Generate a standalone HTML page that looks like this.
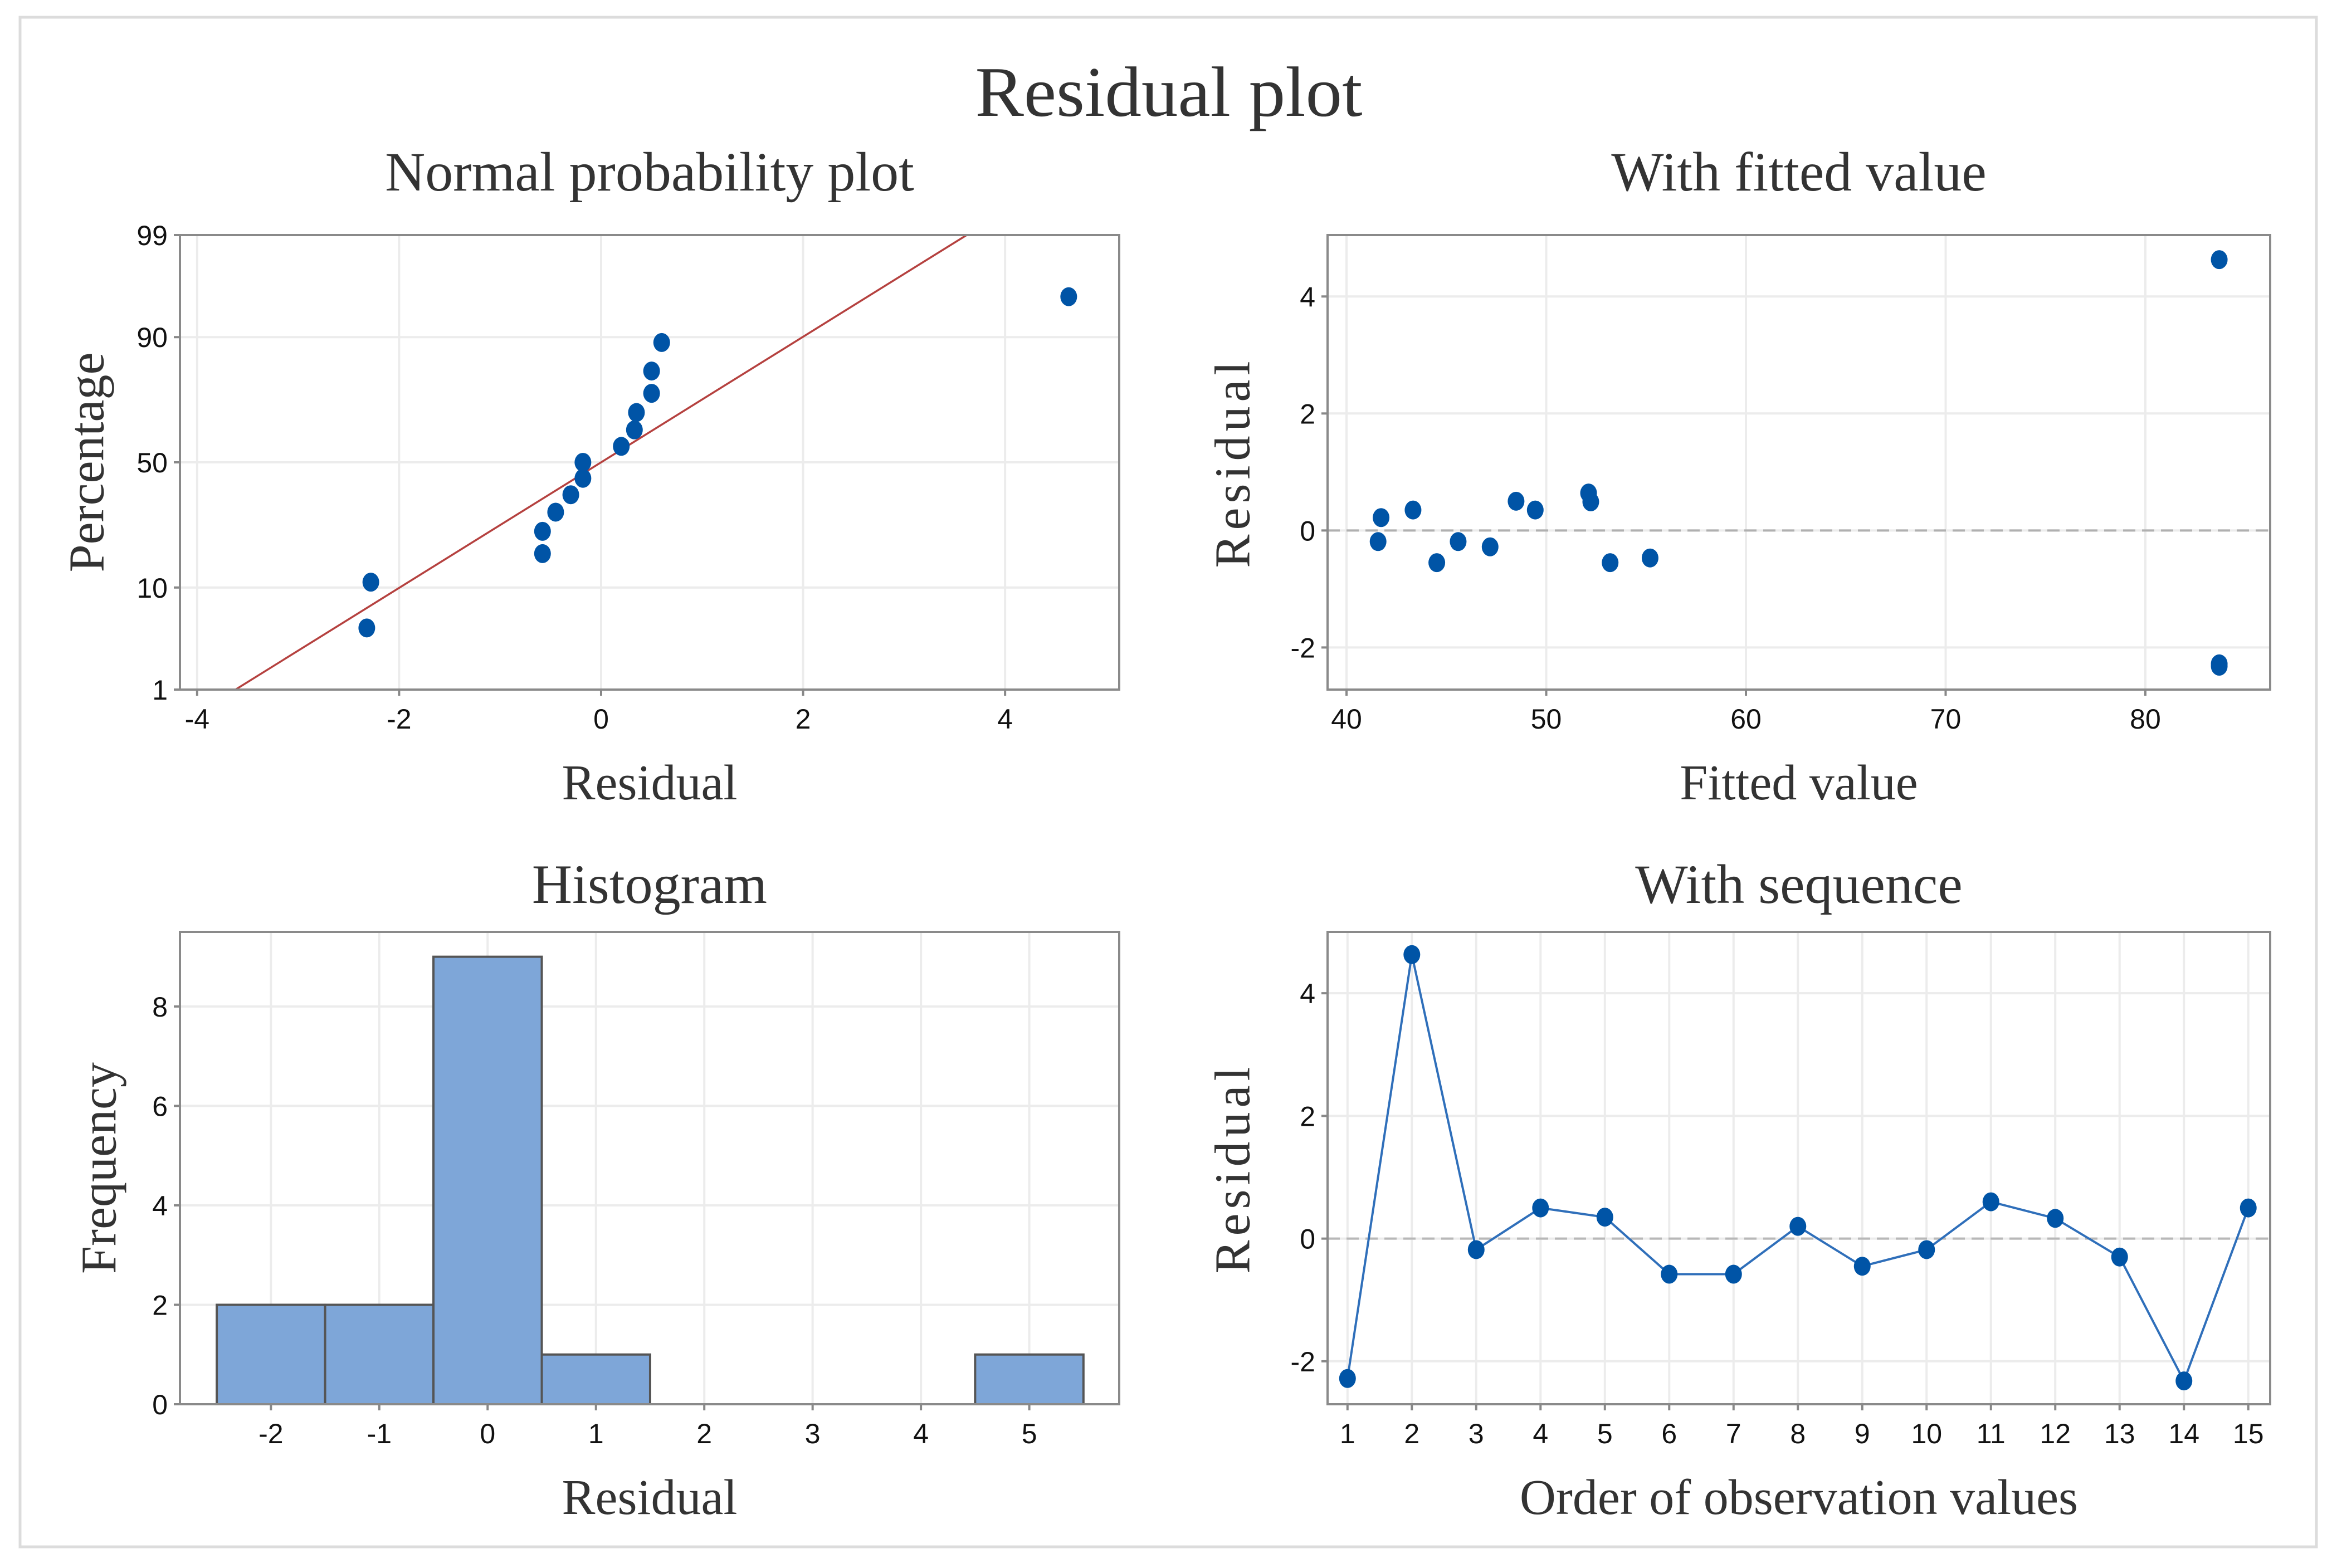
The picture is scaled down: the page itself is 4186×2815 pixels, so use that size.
<!DOCTYPE html>
<html><head><meta charset="utf-8"><style>
html,body{margin:0;padding:0;background:#fff;}
svg{display:block;}
text{font-family:"Liberation Serif",serif;fill:#333;}
.tick{font-family:"Liberation Sans",sans-serif;fill:#111;font-size:50px;}
</style></head><body>
<svg id="chart" width="4186" height="2815" viewBox="0 0 4186 2815" xmlns="http://www.w3.org/2000/svg">
<rect x="0" y="0" width="4186" height="2815" fill="#fff"/>
<rect x="36" y="31" width="4122" height="2746" fill="none" stroke="#dcdcdc" stroke-width="5"/>
<text x="2098" y="208" font-size="128" text-anchor="middle" textLength="695" lengthAdjust="spacingAndGlyphs">Residual plot</text>
</svg>
<script>
// Normal probability plot data (sorted residuals and plotting percentages)
const npResiduals = [-2.32,-2.28,-0.58,-0.58,-0.45,-0.30,-0.18,-0.18,0.20,0.33,0.35,0.50,0.50,0.60,4.63];
const npPercents = [4.5,11.0,17.5,24.0,30.5,37.0,43.5,50.0,56.5,63.0,69.5,76.0,82.5,89.0,95.5];
const npFitMean = 0.0;
const npFitSd = 1.556;
const npXTicks = [-4,-2,0,2,4];
const npYTicks = [1,10,50,90,99];
// Fitted-value plot data
const fittedValues = [41.58,41.73,43.33,44.52,45.59,47.19,48.49,49.45,52.12,52.23,53.2,55.2,83.7,83.7,83.7];
const fittedResiduals = [-0.19,0.22,0.35,-0.55,-0.19,-0.28,0.50,0.35,0.64,0.49,-0.55,-0.47,4.63,-2.28,-2.32];
const fvXTicks = [40,50,60,70,80];
const fvYTicks = [-2,0,2,4];
// Histogram data
const histBins = [-2,-1,0,1,2,3,4,5];
const histCounts = [2,2,9,1,0,0,0,1];
const histXTicks = [-2,-1,0,1,2,3,4,5];
const histYTicks = [0,2,4,6,8];
// Sequence data
const seqOrder = [1,2,3,4,5,6,7,8,9,10,11,12,13,14,15];
const seqResiduals = [-2.28,4.63,-0.18,0.50,0.35,-0.58,-0.58,0.20,-0.45,-0.18,0.60,0.33,-0.30,-2.32,0.50];
const seqYTicks = [-2,0,2,4];

const NS = "http://www.w3.org/2000/svg";
const svg = document.getElementById('chart');
function mk(tag, attrs, parent){const e=document.createElementNS(NS,tag);for(const k in attrs)e.setAttribute(k,attrs[k]);(parent||svg).appendChild(e);return e;}
function lin(d0,d1,r0,r1){return v=>r0+(v-d0)*(r1-r0)/(d1-d0);}
// inverse normal CDF (Acklam)
function qnorm(p){const a=[-39.69683028665376,220.9460984245205,-275.9285104469687,138.3577518672690,-30.66479806614716,2.506628277459239],b=[-54.47609879822406,161.5858368580409,-155.6989798598866,66.80131188771972,-13.28068155288572],c=[-0.007784894002430293,-0.3223964580411365,-2.400758277161838,-2.549732539343734,4.374664141464968,2.938163982698783],d=[0.007784695709041462,0.3224671290700398,2.445134137142996,3.754408661907416];const pl=0.02425;let q,r;if(p<pl){q=Math.sqrt(-2*Math.log(p));return(((((c[0]*q+c[1])*q+c[2])*q+c[3])*q+c[4])*q+c[5])/((((d[0]*q+d[1])*q+d[2])*q+d[3])*q+1);}if(p>1-pl){q=Math.sqrt(-2*Math.log(1-p));return-(((((c[0]*q+c[1])*q+c[2])*q+c[3])*q+c[4])*q+c[5])/((((d[0]*q+d[1])*q+d[2])*q+d[3])*q+1);}q=p-0.5;r=q*q;return(((((a[0]*r+a[1])*r+a[2])*r+a[3])*r+a[4])*r+a[5])*q/(((((b[0]*r+b[1])*r+b[2])*r+b[3])*r+b[4])*r+1);}

function panel(opt){
  const g=mk('g',{});
  
  
  const {L,R,T,B}=opt;
  const t=mk('text',{x:(L+R)/2,y:opt.titleY,'font-size':100,'text-anchor':'middle'},g);
  t.textContent=opt.title;
  
  
  // grid
  opt.xTicks.forEach(v=>{const x=opt.sx(v);
    const gl=mk('line',{x1:x,x2:x,y1:T,y2:B,stroke:'#ececec','stroke-width':4},g);
    
    
  });
  opt.yTicks.forEach(v=>{const y=opt.sy(v);
    const gl=mk('line',{x1:L,x2:R,y1:y,y2:y,stroke:'#ececec','stroke-width':4},g);
    
    
  });
  // ticks & labels
  opt.xTicks.forEach((v,i)=>{const x=opt.sx(v);
    mk('line',{x1:x,x2:x,y1:B,y2:B+11,stroke:'#888','stroke-width':4},g);
    const tl=mk('text',{x:x,y:B+70,class:'tick','text-anchor':'middle'},g);
    tl.textContent=opt.xLabels?opt.xLabels[i]:String(v);
    
    
  });
  opt.yTicks.forEach(v=>{const y=opt.sy(v);
    mk('line',{x1:L-11,x2:L,y1:y,y2:y,stroke:'#888','stroke-width':4},g);
    const tl=mk('text',{x:L-22,y:y+18,class:'tick','text-anchor':'end'},g);
    tl.textContent=String(v);
    
    
  });
  const xl=mk('text',{x:(L+R)/2,y:B+197,'font-size':90,'text-anchor':'middle'},g);
  xl.textContent=opt.xTitle;
  
  
  const cy=(T+B)/2, cx=opt.yTitleX;
  const yl=mk('text',{x:cx,y:cy,'font-size':90,'text-anchor':'middle',transform:`rotate(-90 ${cx} ${cy})`,'dominant-baseline':'middle','letter-spacing':opt.ls||0},g);
  yl.textContent=opt.yTitle;
  
  
  const marks=mk('g',{},g);
  
  
  opt.draw(marks);
  const box=mk('rect',{x:L,y:T,width:R-L,height:B-T,fill:'none',stroke:'#8a8a8a','stroke-width':4},g);
  
  
}
function dot(parent,x,y,name){
  const c=mk('ellipse',{cx:x,cy:y,rx:15,ry:17,fill:'#0054a6'},parent);
  
  
}

// Panel 1
(function(){
  const L=323,R=2009,T=422,B=1238;
  const sx=lin(-4.17,5.13,L,R);
  const zTop=qnorm(0.99), zBot=qnorm(0.01);
  const sy=p=>lin(zBot,zTop,B,T)(qnorm(p/100));
  panel({name:'normal-probability-plot',L,R,T,B,sx,sy,title:'Normal probability plot',titleY:342,xTicks:npXTicks,yTicks:npYTicks,xTitle:'Residual',yTitle:'Percentage',yTitleX:165,
    draw:g=>{
      const cp=mk('clipPath',{id:'clip1'},g);
      mk('rect',{x:L,y:T,width:R-L,height:B-T},cp);
      const x1=npFitMean+zBot*npFitSd, x2=npFitMean+zTop*npFitSd;
      const ln=mk('line',{x1:sx(x1),y1:B,x2:sx(x2),y2:T,stroke:'#b5413f','stroke-width':3.5,'clip-path':'url(#clip1)'},g);
      
      
      npResiduals.forEach((r,i)=>dot(g,sx(r),sy(npPercents[i]),'np-point'));
    }});
})();
// Panel 2
(function(){
  const L=2383,R=4075,T=422,B=1238;
  const sx=lin(39.05,86.25,L,R), sy=lin(-2.72,5.05,B,T);
  panel({name:'fitted-value-plot',L,R,T,B,sx,sy,title:'With fitted value',titleY:342,xTicks:fvXTicks,yTicks:fvYTicks,xTitle:'Fitted value',yTitle:'Residual',yTitleX:2222,ls:8,
    draw:g=>{
      const z=mk('line',{x1:L,x2:R,y1:sy(0),y2:sy(0),stroke:'#b0b0b0','stroke-width':4,'stroke-dasharray':'22 12'},g);
      
      
      fittedValues.forEach((f,i)=>dot(g,sx(f),sy(fittedResiduals[i]),'fitted-point'));
    }});
})();
// Panel 3
(function(){
  const L=323,R=2009,T=1673,B=2521;
  const sx=lin(-2.84,5.83,L,R), sy=lin(0,9.5,B,T);
  panel({name:'histogram',L,R,T,B,sx,sy,title:'Histogram',titleY:1621,xTicks:histXTicks,yTicks:histYTicks,xTitle:'Residual',yTitle:'Frequency',yTitleX:187,
    draw:g=>{
      histBins.forEach((c,i)=>{
        const x0=sx(c-0.5), x1=sx(c+0.5), y=sy(histCounts[i]);
        const b=mk('rect',{x:x0,y:y,width:x1-x0,height:B-y,fill:'#7ea6d8',stroke:'#555','stroke-width':histCounts[i]?4:3},g);
        
        
      });
    }});
})();
// Panel 4
(function(){
  const L=2383,R=4075,T=1673,B=2521;
  const sx=lin(0.69,15.34,L,R), sy=lin(-2.7,5.0,B,T);
  panel({name:'sequence-plot',L,R,T,B,sx,sy,title:'With sequence',titleY:1621,xTicks:seqOrder,yTicks:seqYTicks,xTitle:'Order of observation values',yTitle:'Residual',yTitleX:2222,ls:8,
    draw:g=>{
      const z=mk('line',{x1:L,x2:R,y1:sy(0),y2:sy(0),stroke:'#b8b8b8','stroke-width':4,'stroke-dasharray':'22 12'},g);
      
      
      const pts=seqOrder.map((o,i)=>sx(o)+','+sy(seqResiduals[i])).join(' ');
      const pl=mk('polyline',{points:pts,fill:'none',stroke:'#2f6fba','stroke-width':4},g);
      
      
      seqOrder.forEach((o,i)=>dot(g,sx(o),sy(seqResiduals[i]),'sequence-point'));
    }});
})();
</script>
</body></html>
